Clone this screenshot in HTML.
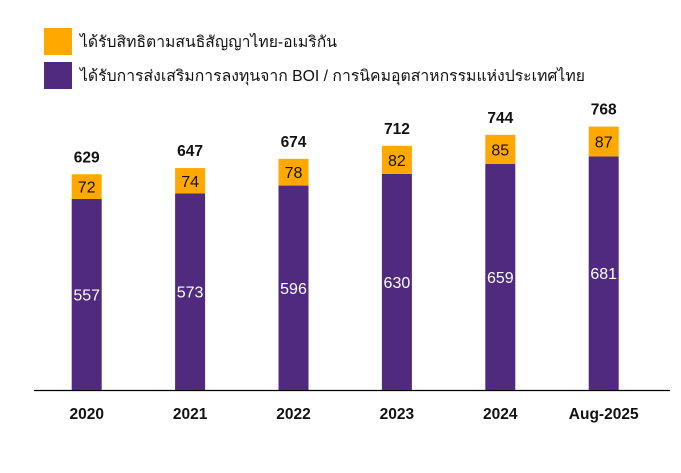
<!DOCTYPE html>
<html><head><meta charset="utf-8"><style>body{margin:0;background:#fff}</style></head><body>
<svg width="681" height="468" xmlns="http://www.w3.org/2000/svg" font-family="Liberation Sans, Noto Sans CJK SC, sans-serif">
<rect x="44" y="28" width="28" height="27" fill="#FFA800"/>
<rect x="44" y="62" width="28" height="27" fill="#4F2A7E"/>
<text x="80" y="47" font-size="15.5" fill="#111" textLength="257" lengthAdjust="spacingAndGlyphs">ได้รับสิทธิตามสนธิสัญญาไทย-อเมริกัน</text>
<text x="80" y="81" font-size="15.5" fill="#111" textLength="505" lengthAdjust="spacingAndGlyphs">ได้รับการส่งเสริมการลงทุนจาก BOI / การนิคมอุตสาหกรรมแห่งประเทศไทย</text>
<line x1="34" y1="390.5" x2="670" y2="390.5" stroke="#000" stroke-width="1.3"/>
<g id="bars"></g>
</svg>
<script>
var d=[["2020",557,72,629],["2021",573,74,647],["2022",596,78,674],["2023",630,82,712],["2024",659,85,744],["Aug-2025",681,87,768]];
var s=0.343,b=390,g=document.getElementById('bars'),h='';
d.forEach(function(r,i){var c=86.7+103.4*i,x=c-15,pt=b-r[1]*s,ot=pt-r[2]*s;
h+='<rect x="'+x+'" y="'+pt+'" width="30" height="'+(b-pt)+'" fill="#4F2A7E"/>';
h+='<rect x="'+x+'" y="'+ot+'" width="30" height="'+(pt-ot)+'" fill="#FFA800"/>';
h+='<text x="'+c+'" y="'+((pt+b)/2+6)+'" font-size="16" fill="#fff" text-anchor="middle">'+r[1]+'</text>';
h+='<text x="'+c+'" y="'+((pt+ot)/2+6)+'" font-size="16" fill="#111" text-anchor="middle">'+r[2]+'</text>';
h+='<text x="'+c+'" y="'+(ot-12)+'" font-size="15.5" font-weight="bold" fill="#111" text-anchor="middle">'+r[3]+'</text>';
h+='<text x="'+c+'" y="419" font-size="15.5" font-weight="bold" fill="#111" text-anchor="middle">'+r[0]+'</text>';});
g.innerHTML=h;
</script>
</body></html>
